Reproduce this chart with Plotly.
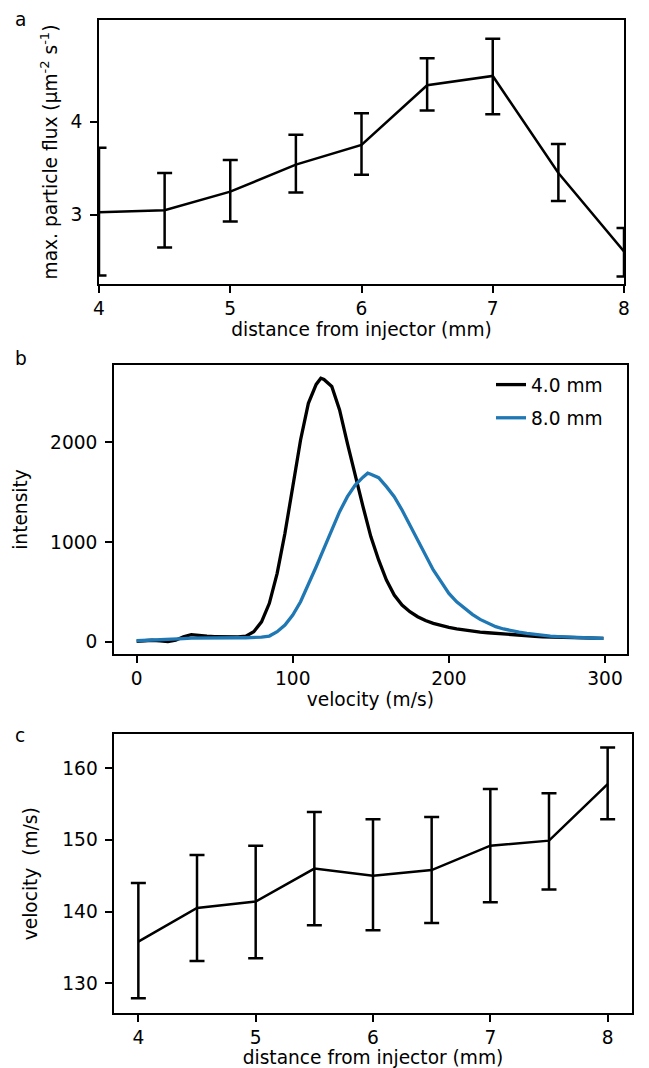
import plotly.graph_objects as go

# panel a: max. particle flux vs distance
distance = [4, 4.5, 5, 5.5, 6, 6.5, 7, 7.5, 8]
flux = [3.03, 3.05, 3.25, 3.54, 3.75, 4.39, 4.49, 3.45, 2.61]
flux_err_plus = [0.69, 0.40, 0.34, 0.32, 0.34, 0.29, 0.40, 0.31, 0.25]
flux_err_minus = [0.68, 0.40, 0.32, 0.30, 0.32, 0.27, 0.41, 0.30, 0.27]

# panel b: velocity distributions
velocity_4mm = [0, 5, 10, 15, 20, 25, 30, 35, 40, 45, 50, 55, 60, 65, 70, 75,
                80, 85, 90, 95, 100, 105, 110, 115, 118, 120, 125, 130, 135, 140,
                145, 150, 155, 160, 165, 170, 175, 180, 185, 190, 195, 200, 205,
                210, 215, 220, 225, 230, 235, 240, 245, 250, 255, 260, 265, 270,
                275, 280, 285, 290, 295, 299]
intensity_4mm = [5, 10, 15, 8, 2, 15, 50, 72, 62, 55, 52, 50, 48, 48, 55, 100,
                 200, 385, 686, 1087, 1555, 2023, 2391, 2580, 2642, 2630, 2560,
                 2324, 1990, 1655, 1355, 1054, 820, 619, 468, 368, 301, 251, 212,
                 184, 162, 144, 130, 117, 106, 97, 90, 83, 76, 70, 65, 60, 55, 50,
                 47, 44, 42, 40, 37, 35, 34, 33]
velocity_8mm = [0, 5, 10, 15, 20, 25, 30, 35, 40, 45, 50, 55, 60, 65, 70, 75,
                80, 85, 90, 95, 100, 105, 110, 115, 120, 125, 130, 135, 140, 145,
                148, 150, 155, 160, 165, 170, 175, 180, 185, 190, 195, 200, 205,
                210, 215, 220, 225, 230, 235, 240, 245, 250, 255, 260, 265, 270,
                275, 280, 285, 290, 295, 299]
intensity_8mm = [10, 15, 18, 22, 25, 28, 32, 36, 38, 40, 40, 40, 40, 40, 40, 42,
                 46, 57, 100, 167, 268, 401, 569, 752, 936, 1120, 1304, 1455, 1572,
                 1650, 1690, 1680, 1645, 1555, 1455, 1321, 1171, 1020, 870, 719,
                 602, 485, 400, 334, 275, 224, 185, 151, 128, 110, 96, 84, 73, 64,
                 57, 52, 47, 43, 40, 37, 35, 33]

# panel c: mean velocity vs distance
mean_velocity = [135.8, 140.5, 141.4, 146.0, 145.0, 145.8, 149.2, 149.9, 157.8]
vel_err_plus = [8.2, 7.4, 7.8, 7.9, 7.9, 7.4, 7.9, 6.6, 5.1]
vel_err_minus = [7.9, 7.4, 7.9, 7.9, 7.6, 7.4, 7.9, 6.8, 4.9]

# the page body has an 8px margin, so the figure is drawn 8px in from the corner
PAGE_W, PAGE_H, OFF = 649, 1068, 8
W, H = PAGE_W - OFF, PAGE_H - OFF
FONT = dict(family="DejaVu Sans", size=18.6, color="black")


def fx(px):
    return (px - OFF) / W


def fy(py):
    return 1 - (py - OFF) / H


fig = go.Figure()

fig.add_trace(go.Scatter(
    x=distance, y=flux, mode="lines", showlegend=False,
    line=dict(color="black", width=2.5),
    error_y=dict(type="data", array=flux_err_plus, arrayminus=flux_err_minus,
                 color="black", thickness=2.5, width=7.5),
    xaxis="x", yaxis="y"))

fig.add_trace(go.Scatter(
    x=velocity_4mm, y=intensity_4mm, mode="lines", name="4.0 mm",
    legendgroup="g1", line=dict(color="black", width=3.3),
    xaxis="x2", yaxis="y2"))
fig.add_trace(go.Scatter(
    x=velocity_8mm, y=intensity_8mm, mode="lines", name="8.0 mm",
    legendgroup="g2", line=dict(color="#1f77b4", width=3.3),
    xaxis="x2", yaxis="y2"))

fig.add_trace(go.Scatter(
    x=distance, y=mean_velocity, mode="lines", showlegend=False,
    line=dict(color="black", width=2.5),
    error_y=dict(type="data", array=vel_err_plus, arrayminus=vel_err_minus,
                 color="black", thickness=2.5, width=7.5),
    xaxis="x3", yaxis="y3"))

axis_style = dict(showline=True, mirror=True, linecolor="black", linewidth=1.7,
                  ticks="outside", ticklen=7, tickwidth=1.7, tickcolor="black",
                  showgrid=False, zeroline=False, automargin=False,
                  tickfont=FONT)
xstyle = dict(axis_style, ticklabelstandoff=0)
ystyle = dict(axis_style, ticklabelstandoff=4)

fig.update_layout(
    width=W, height=H,
    margin=dict(l=0, r=0, t=0, b=0),
    plot_bgcolor="white", paper_bgcolor="white",
    font=FONT,
    xaxis=dict(xstyle, domain=[fx(99), fx(624)], range=[4, 8],
               tickvals=[4, 5, 6, 7, 8], anchor="y",
               title=dict(text="distance from injector (mm)", font=FONT, standoff=0)),
    yaxis=dict(ystyle, domain=[fy(284), fy(20)], range=[2.26, 5.09],
               tickvals=[3, 4], anchor="x",
               title=dict(text="max. particle flux (µm<sup>-2</sup> s<sup>-1</sup>)",
                          font=FONT, standoff=8)),
    xaxis2=dict(xstyle, domain=[fx(114), fx(626.7)], range=[-14.5, 313.9],
                tickvals=[0, 100, 200, 300], anchor="y2",
                title=dict(text="velocity (m/s)", font=FONT, standoff=0)),
    yaxis2=dict(ystyle, domain=[fy(654), fy(365)], range=[-123, 2775],
                tickvals=[0, 1000, 2000], anchor="x2",
                title=dict(text="intensity", font=FONT, standoff=18)),
    xaxis3=dict(xstyle, domain=[fx(114.3), fx(631.7)], range=[3.795, 8.205],
                tickvals=[4, 5, 6, 7, 8], anchor="y3",
                title=dict(text="distance from injector (mm)", font=FONT, standoff=0)),
    yaxis3=dict(ystyle, domain=[fy(1013.3), fy(734.3)], range=[125.81, 164.74],
                tickvals=[130, 140, 150, 160], anchor="x3",
                title=dict(text="velocity  (m/s)", font=FONT, standoff=20)),
    legend=dict(x=fx(491), y=fy(366), xanchor="left", yanchor="top",
                font=FONT, bgcolor="rgba(0,0,0,0)", tracegroupgap=6,
                traceorder="grouped"),
)

for label, ypix in [("a", 19.5), ("b", 358), ("c", 735)]:
    fig.add_annotation(text=label, xref="paper", yref="paper", x=fx(14),
                       y=fy(ypix), xanchor="left", yanchor="middle",
                       showarrow=False, font=FONT, borderpad=0)

fig.write_html("out.html")
